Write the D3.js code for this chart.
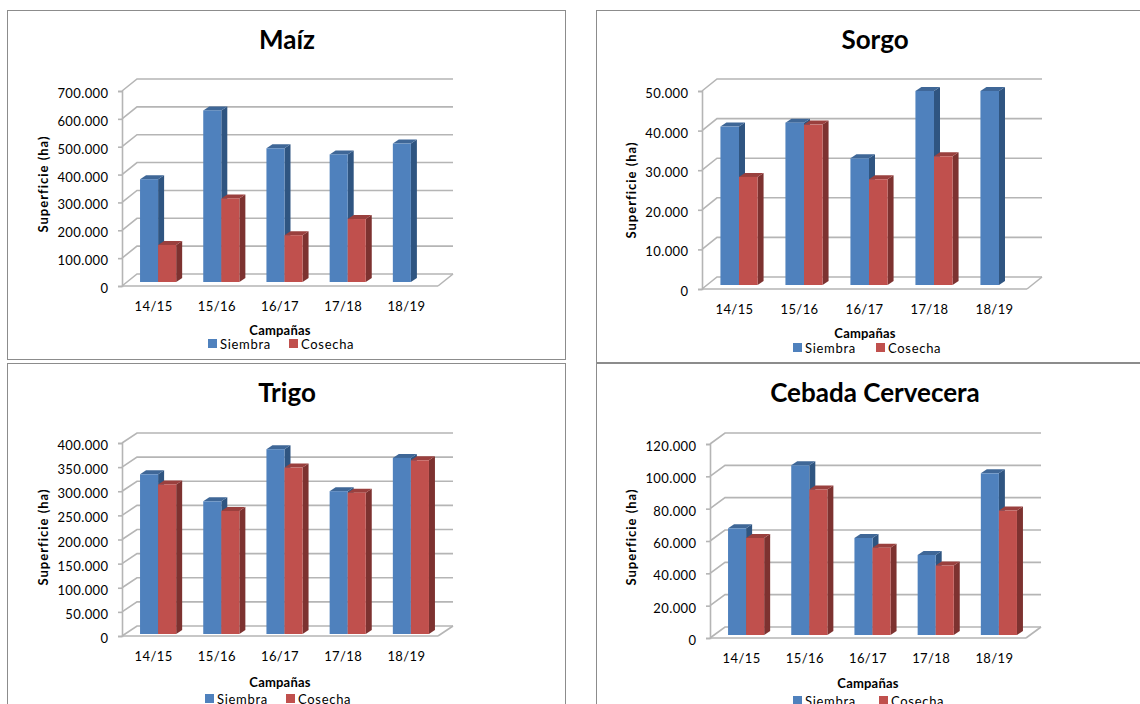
<!DOCTYPE html>
<html>
<head>
<meta charset="utf-8">
<script src="https://cdn.jsdelivr.net/npm/d3@7"></script>
<style>
    body { margin: 0; background: #fff; overflow: hidden; }
    text { font-family: Lato, sans-serif; fill: #000; }
</style>
</head>
<body>
<div id="chart"></div>
<script>
// Data ---------------------------------------------
var campanas = ["14/15", "15/16", "16/17", "17/18", "18/19"];

var maizSiembra = [369000, 616000, 480000, 458000, 497000];
var maizCosecha = [133000, 300000, 168000, 226000, 0];
var maizTicks = [0, 100000, 200000, 300000, 400000, 500000, 600000, 700000];

var sorgoSiembra = [40000, 41000, 32000, 49000, 49000];
var sorgoCosecha = [27300, 40500, 26700, 32500, 0];
var sorgoTicks = [0, 10000, 20000, 30000, 40000, 50000];

var trigoSiembra = [331000, 275000, 383000, 296000, 365000];
var trigoCosecha = [310000, 255000, 345000, 293000, 360000];
var trigoTicks = [0, 50000, 100000, 150000, 200000, 250000, 300000, 350000, 400000];

var cebadaSiembra = [66000, 105000, 60000, 49500, 100000];
var cebadaCosecha = [60000, 90000, 54000, 43000, 77000];
var cebadaTicks = [0, 20000, 40000, 60000, 80000, 100000, 120000];

// number format with dot as thousands separator
var locale = d3.formatLocale({ decimal: ",", thousands: ".", grouping: [3], currency: ["", ""] });
var fmt = locale.format(",d");

var svg = d3.select("#chart")
    .append("svg")
    .attr("width", 1140)
    .attr("height", 704);

drawPanel({ title: "Maíz", siembra: maizSiembra, cosecha: maizCosecha, ticks: maizTicks,
    box: [7.5, 10.5, 558, 349], left: 122, right: 438, base: 286, top: 91, floorDy: 12, lift: 4, titleX: 287, titleY: 49,
    yTitleX: 48, yTitleY: 184, axisTitleX: 280, axisTitleY: 335, legendY: 344, sw1: 208, sw2: 289 });

drawPanel({ title: "Sorgo", siembra: sorgoSiembra, cosecha: sorgoCosecha, ticks: sorgoTicks,
    box: [596.5, 10.5, 560, 352], left: 702, right: 1027, base: 289, top: 91, floorDy: 12, lift: 4, titleX: 875, titleY: 49,
    yTitleX: 636, yTitleY: 190, axisTitleX: 865, axisTitleY: 338, legendY: 348, sw1: 793, sw2: 876 });

drawPanel({ title: "Trigo", siembra: trigoSiembra, cosecha: trigoCosecha, ticks: trigoTicks,
    box: [7.5, 363.5, 558, 360], left: 122, right: 438, base: 636, top: 443, floorDy: 10, lift: 2, titleX: 287, titleY: 402,
    yTitleX: 48, yTitleY: 537, axisTitleX: 280, axisTitleY: 687, legendY: 699, sw1: 205, sw2: 286 });

drawPanel({ title: "Cebada Cervecera", siembra: cebadaSiembra, cosecha: cebadaCosecha, ticks: cebadaTicks,
    box: [596.5, 363.5, 560, 360], left: 710, right: 1026, base: 638, top: 444, floorDy: 11, lift: 3, titleX: 875, titleY: 402,
    yTitleX: 636, yTitleY: 537, axisTitleX: 868, axisTitleY: 688, legendY: 701, sw1: 793, sw2: 879 });

function drawPanel(p) {
    var g = svg.append("g");
    var depthX = 15, depthY = p.floorDy;   // depth of the 3D box
    var barDx = 6, barDy = 4;              // depth of a bar
    var shift = 4.5, lift = p.lift;        // bars stand a bit inside the floor
    var gridColor = "#b5b5b5", gridWidth = 1.6;

    g.append("rect")
        .attr("x", p.box[0]).attr("y", p.box[1])
        .attr("width", p.box[2]).attr("height", p.box[3])
        .attr("fill", "#fff").attr("stroke", "#8c8c8c");

    var x = d3.scaleBand().domain(campanas).range([p.left, p.right]);
    var y = d3.scaleLinear().domain(d3.extent(p.ticks)).range([p.base, p.top]);
    var inner = d3.scaleBand().domain([0, 1]).range([0, x.bandwidth()]).paddingOuter(0.75);

    // back wall gridlines and their slanted side lines
    p.ticks.forEach(function (t) {
        g.append("path")
            .attr("d", d3.line()([[p.left, y(t)], [p.left + depthX, y(t) - depthY], [p.right + depthX, y(t) - depthY]]))
            .attr("fill", "none").attr("stroke", gridColor).attr("stroke-width", gridWidth);
    });
    // floor right edge and front lines
    g.append("path")
        .attr("d", d3.line()([[p.right, p.base], [p.right + depthX, p.base - depthY]]))
        .attr("fill", "none").attr("stroke", gridColor).attr("stroke-width", gridWidth);
    g.append("line")
        .attr("x1", p.left).attr("x2", p.right).attr("y1", p.base).attr("y2", p.base)
        .attr("stroke", gridColor).attr("stroke-width", gridWidth);

    // Y axis
    var yAxis = g.append("g")
        .attr("transform", "translate(" + p.left + ",0)")
        .call(d3.axisLeft(y).tickValues(p.ticks).tickFormat(fmt).tickSize(4).tickPadding(9.5));
    yAxis.selectAll("path, line").attr("stroke", gridColor).attr("stroke-width", gridWidth);
    yAxis.selectAll("text")
        .attr("dy", "0.5em")
        .style("font-size", "13px").style("letter-spacing", "0.4px")
        .style("font-family", "Lato, sans-serif").attr("fill", "#000");

    // X axis
    var xAxis = g.append("g")
        .attr("transform", "translate(0," + p.base + ")")
        .call(d3.axisBottom(x).tickSize(0).tickPadding(16));
    xAxis.select("path").remove();
    xAxis.selectAll("text")
        .style("font-size", "13px").style("letter-spacing", "0.4px")
        .style("font-family", "Lato, sans-serif").attr("fill", "#000");

    // Bars
    drawBars(p.siembra, 0, "#4f81bd", "#3f6797", "#2f5581");
    drawBars(p.cosecha, 1, "#c0504d", "#9a403e", "#7d3230");

    function drawBars(values, idx, front, top, side) {
        campanas.forEach(function (c, i) {
            if (!values[i]) return;
            var x0 = x(c) + inner(idx) + shift;
            var x1 = x0 + inner.bandwidth();
            var y0 = y(0) - lift;
            var y1 = y(values[i]) - lift;
            g.append("path")
                .attr("d", d3.line()([[x1, y1], [x1 + barDx, y1 - barDy], [x1 + barDx, y0 - barDy], [x1, y0]]) + "Z")
                .attr("fill", side);
            g.append("path")
                .attr("d", d3.line()([[x0, y1], [x0 + barDx, y1 - barDy], [x1 + barDx, y1 - barDy], [x1, y1]]) + "Z")
                .attr("fill", top);
            g.append("rect")
                .attr("x", x0).attr("y", y1)
                .attr("width", x1 - x0).attr("height", y0 - y1)
                .attr("fill", front);
        });
    }

    // Titles
    g.append("text")
        .attr("x", p.titleX).attr("y", p.titleY)
        .attr("text-anchor", "middle")
        .style("font-size", "26px").style("font-weight", "bold")
        .text(p.title);

    g.append("text")
        .attr("transform", "translate(" + p.yTitleX + "," + p.yTitleY + ")rotate(-90)")
        .attr("text-anchor", "middle")
        .style("font-size", "13px").style("font-weight", "bold").style("letter-spacing", "1px")
        .text("Superficie (ha)");

    g.append("text")
        .attr("x", p.axisTitleX).attr("y", p.axisTitleY)
        .attr("text-anchor", "middle")
        .style("font-size", "13px").style("font-weight", "bold").style("letter-spacing", "0.2px")
        .text("Campañas");

    // Legend
    [["Siembra", p.sw1, "#4f81bd"], ["Cosecha", p.sw2, "#c0504d"]].forEach(function (d) {
        g.append("rect")
            .attr("x", d[1]).attr("y", p.legendY - 5)
            .attr("width", 9).attr("height", 9)
            .attr("fill", d[2]);
        g.append("text")
            .attr("x", d[1] + 12).attr("y", p.legendY + 4.5)
            .style("font-size", "13px").style("letter-spacing", "0.7px")
            .text(d[0]);
    });
}
</script>
</body>
</html>
